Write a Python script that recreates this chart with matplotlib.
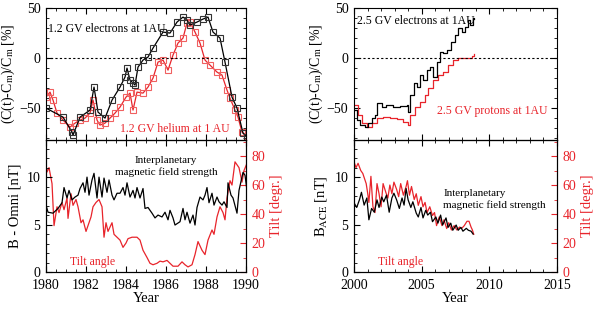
import numpy as np
import matplotlib
matplotlib.use("Agg")
import matplotlib.pyplot as plt
from matplotlib.ticker import MultipleLocator

plt.rcParams.update({
    "font.family": "Liberation Serif",
    "mathtext.fontset": "stix",
    "font.size": 10,
    "xtick.direction": "in",
    "ytick.direction": "in",
    "xtick.major.size": 4,
    "ytick.major.size": 4,
    "xtick.minor.size": 2,
    "ytick.minor.size": 2,
    "xtick.major.pad": 5,
    "ytick.major.pad": 4,
    "axes.linewidth": 0.8,
})

RED = "#e8242b"

# ----------------------------- Data: 1980-1990 -----------------------------
e12_year = [1980.0, 1980.85, 1981.3, 1981.35, 1981.7, 1982.2, 1982.4, 1982.6, 1982.95,
            1983.3, 1983.7, 1983.95, 1984.05, 1984.2, 1984.35, 1984.45, 1984.6, 1984.85,
            1985.1, 1985.35, 1985.85, 1986.2, 1986.55, 1986.85, 1987.05, 1987.2, 1987.55,
            1987.85, 1988.1, 1988.35, 1988.7, 1988.95, 1989.3, 1989.55, 1989.85, 1990.05]
e12_val = [-50, -59, -74, -77, -59, -52, -29, -54, -60,
           -42, -29, -19, -10, -22, -25, -27, -9, -2,
           1, 10, 26, 25, 36, 41, 38, 33, 36,
           39, 41, 26, 20, -4, -39, -50, -75, -79]

he12_year = [1980.0, 1980.2, 1980.35, 1980.55, 1980.85, 1981.2, 1981.45, 1981.7, 1981.95,
             1982.2, 1982.35, 1982.55, 1982.7, 1982.95, 1983.2, 1983.45, 1983.7, 1984.0,
             1984.2, 1984.35, 1984.55, 1984.85, 1985.1, 1985.35, 1985.6, 1985.85, 1986.1,
             1986.35, 1986.6, 1986.85, 1987.05, 1987.2, 1987.45, 1987.7, 1987.95, 1988.2,
             1988.55, 1988.8, 1989.05, 1989.2, 1989.45, 1989.6, 1989.8, 1990.05]
he12_val = [-39, -34, -42, -55, -62, -69, -65, -62, -60,
            -55, -42, -62, -67, -65, -60, -55, -49, -39,
            -35, -52, -34, -35, -29, -20, -4, -2, -12,
            3, 15, 20, 35, 36, 26, 15, -2, -7,
            -14, -17, -32, -40, -52, -59, -74, -78]

bomni_year = [1980.0, 1980.1, 1980.35, 1980.6, 1980.8, 1980.9, 1981.05, 1981.15, 1981.3, 1981.45,
              1981.6, 1981.7, 1981.85, 1981.95, 1982.05, 1982.15, 1982.3, 1982.4, 1982.55, 1982.65,
              1982.8, 1982.9, 1983.05, 1983.15, 1983.3, 1983.4, 1983.55, 1983.7, 1983.85, 1983.95,
              1984.05, 1984.2, 1984.35, 1984.45, 1984.55, 1984.7, 1984.85, 1984.95, 1985.1, 1985.3,
              1985.45, 1985.6, 1985.8, 1985.95, 1986.1, 1986.2, 1986.35, 1986.45, 1986.7, 1986.85,
              1986.95, 1987.05, 1987.2, 1987.35, 1987.45, 1987.55, 1987.7, 1987.85, 1987.95, 1988.05,
              1988.15, 1988.3, 1988.4, 1988.55, 1988.65, 1988.8, 1988.9, 1989.05, 1989.1, 1989.25,
              1989.35, 1989.55, 1989.65, 1989.85, 1989.95, 1990.05]
bomni_val = [7.05, 6.3, 6.2, 6.7, 7.3, 8.9, 7.8, 8.6, 7.6, 7.9,
             8.1, 8.8, 9.4, 8.4, 10.0, 8.1, 9.7, 10.4, 7.8, 10.0,
             7.9, 9.9, 8.4, 9.7, 8.1, 7.6, 8.3, 8.3, 8.9, 8.1,
             9.4, 7.9, 8.6, 7.8, 8.9, 7.8, 8.8, 6.7, 6.8, 6.2,
             5.7, 6.0, 5.8, 6.3, 5.5, 6.5, 5.7, 4.95, 5.3, 6.7,
             5.5, 6.3, 5.15, 6.0, 4.95, 6.8, 7.9, 7.6, 8.1, 8.9,
             7.3, 8.3, 7.05, 7.9, 7.4, 7.05, 7.4, 6.8, 9.4, 8.1,
             7.8, 6.2, 8.6, 10.5, 10.2, 8.6]

tilt80_year = [1980.0, 1980.05, 1980.15, 1980.3, 1980.4, 1980.55, 1980.65, 1980.8, 1980.9, 1981.05,
               1981.1, 1981.25, 1981.35, 1981.5, 1981.6, 1981.75, 1981.85, 1982.0, 1982.1, 1982.25,
               1982.35, 1982.5, 1982.65, 1982.8, 1982.9, 1983.0, 1983.1, 1983.3, 1983.4, 1983.55,
               1983.7, 1983.85, 1984.0, 1984.1, 1984.3, 1984.55, 1984.7, 1984.85, 1985.05, 1985.2,
               1985.35, 1985.55, 1985.7, 1985.85, 1986.05, 1986.2, 1986.35, 1986.6, 1986.8, 1986.95,
               1987.1, 1987.3, 1987.45, 1987.6, 1987.8, 1987.95, 1988.1, 1988.3, 1988.4, 1988.55,
               1988.7, 1988.85, 1988.95, 1989.05, 1989.2, 1989.3, 1989.45, 1989.55, 1989.65, 1989.8,
               1989.9, 1990.05]
tilt80_val = [74, 69, 72, 61, 32, 45, 41, 48, 43, 51,
              37, 54, 46, 50, 45, 34, 36, 28, 32, 38,
              45, 48, 50, 45, 24, 34, 28, 34, 26, 24,
              22, 17, 20, 23, 24, 24, 22, 15, 10, 6,
              5, 6, 7.5, 7, 8, 6, 4, 4, 7, 5,
              3.5, 5, 12, 21, 15, 12, 22, 29, 26, 38,
              45, 41, 36, 51, 63, 60, 76, 74, 72, 62,
              70, 75]

# ----------------------------- Data: 2000-2009 -----------------------------
e25_year = [2000.0, 2000.2, 2000.45, 2000.8, 2001.05, 2001.3, 2001.55, 2001.7, 2002.05, 2002.4,
            2002.9, 2003.4, 2003.9, 2004.0, 2004.15, 2004.4, 2004.65, 2004.9, 2005.1, 2005.4,
            2005.6, 2005.85, 2006.1, 2006.35, 2006.6, 2006.85, 2007.2, 2007.45, 2007.7, 2007.95,
            2008.2, 2008.45, 2008.6, 2008.8, 2008.9]
e25_val = [-52, -62, -67, -69, -65, -60, -57, -45, -49, -47,
           -49, -48, -47, -54, -37, -25, -29, -17, -22, -12,
           -9, -19, -4, 6, 5, 8, 16, 23, 30, 26,
           31, 38, 33, 40, 39]

p25_year = [2000.0, 2000.3, 2000.6, 2000.95, 2001.3, 2001.7, 2002.15, 2002.65, 2003.15, 2003.6,
            2004.0, 2004.15, 2004.5, 2004.9, 2005.25, 2005.5, 2005.85, 2006.2, 2006.6, 2006.95,
            2007.3, 2007.7, 2008.05, 2008.45, 2008.7, 2008.9]
p25_val = [-47, -57, -65, -69, -65, -60, -59, -60, -61, -64,
           -67, -57, -49, -44, -37, -30, -22, -17, -14, -7,
           -2, 0, 0, 0, 2, 4]

bace_year = [2000.0, 2000.2, 2000.4, 2000.55, 2000.75, 2000.95, 2001.1, 2001.3, 2001.5, 2001.7,
             2001.85, 2002.05, 2002.2, 2002.4, 2002.6, 2002.8, 2002.95, 2003.15, 2003.35, 2003.55,
             2003.7, 2003.85, 2004.0, 2004.2, 2004.35, 2004.6, 2004.75, 2004.95, 2005.1, 2005.3,
             2005.45, 2005.65, 2005.8, 2006.05, 2006.2, 2006.4, 2006.55, 2006.8, 2006.95, 2007.15,
             2007.3, 2007.55, 2007.7, 2007.9, 2008.05, 2008.3, 2008.45, 2008.65, 2008.8]
bace_val = [7.3, 6.8, 7.6, 8.4, 7.05, 7.8, 5.5, 6.7, 6.3, 7.6,
            6.8, 7.9, 7.4, 8.1, 6.3, 7.8, 8.3, 7.6, 6.7, 7.8,
            7.05, 8.8, 7.6, 6.8, 7.4, 6.2, 5.8, 6.8, 5.7, 6.5,
            6.0, 6.3, 5.3, 5.8, 5.15, 6.0, 4.95, 5.7, 4.7, 5.15,
            4.4, 4.95, 4.4, 4.7, 4.3, 4.6, 4.4, 4.3, 4.0]

tilt00_year = [2000.0, 2000.15, 2000.3, 2000.5, 2000.65, 2000.9, 2001.0, 2001.1, 2001.25, 2001.4,
               2001.55, 2001.7, 2001.85, 2002.0, 2002.15, 2002.35, 2002.5, 2002.65, 2002.8, 2002.95,
               2003.15, 2003.3, 2003.45, 2003.65, 2003.85, 2003.95, 2004.1, 2004.25, 2004.45, 2004.6,
               2004.75, 2004.95, 2005.1, 2005.25, 2005.4, 2005.6, 2005.8, 2005.95, 2006.1, 2006.3,
               2006.5, 2006.65, 2006.85, 2007.0, 2007.2, 2007.4, 2007.6, 2007.8, 2007.95, 2008.15,
               2008.35, 2008.5, 2008.65, 2008.75, 2008.85]
tilt00_val = [76, 72, 75, 70, 68, 61, 55, 48, 66, 45,
              41, 61, 54, 45, 61, 55, 51, 60, 54, 62,
              57, 52, 61, 53, 59, 63, 53, 59, 50, 54,
              46, 52, 45, 48, 41, 45, 39, 41, 32, 38,
              32, 36, 30, 34, 29, 32, 29, 31, 30, 32,
              35, 35, 31, 29, 26]

# ----------------------------- Figure -----------------------------
fig = plt.figure(figsize=(6.0, 3.1), dpi=100)
TXT = 8.5

def style_top(ax, xmaj, xmin):
    ax.set_ylim(-82, 50)
    ax.yaxis.set_major_locator(MultipleLocator(50))
    ax.yaxis.set_minor_locator(MultipleLocator(10))
    ax.xaxis.set_major_locator(MultipleLocator(xmaj))
    ax.xaxis.set_minor_locator(MultipleLocator(xmin))
    ax.tick_params(which="both", top=True, right=True, labelbottom=False)
    ax.axhline(0, color="black", linestyle=(0, (2, 2)), linewidth=0.8)
    ax.set_ylabel(r"(C(t)-C$_{\rm m}$)/C$_{\rm m}$ [%]", fontsize=10, labelpad=1)

def style_bottom(ax, axr, xmaj, xmin):
    ax.set_ylim(0, 13.9)
    ax.yaxis.set_major_locator(MultipleLocator(5))
    ax.yaxis.set_minor_locator(MultipleLocator(1))
    ax.xaxis.set_major_locator(MultipleLocator(xmaj))
    ax.xaxis.set_minor_locator(MultipleLocator(xmin))
    ax.tick_params(which="both", top=True)
    ax.set_xlabel("Year", fontsize=10.5, labelpad=0)
    axr.set_ylim(0, 91)
    axr.yaxis.set_major_locator(MultipleLocator(20))
    axr.yaxis.set_minor_locator(MultipleLocator(10))
    axr.tick_params(which="both", colors=RED)
    axr.spines["right"].set_color("black")
    axr.set_ylabel("Tilt [degr.]", color=RED, fontsize=10.5, labelpad=3)

# ---- left column
ax1 = fig.add_axes([0.0767, 0.548, 0.3333, 0.426])
ax1.plot(he12_year, he12_val, color=RED, lw=0.9, marker="s", ms=3.8,
         mfc="none", mec="#f06060", mew=0.8)
ax1.plot(e12_year, e12_val, color="black", lw=0.9, marker="s", ms=3.8,
         mfc="none", mec="#333333", mew=0.8)
ax1.set_xlim(1980, 1990)
style_top(ax1, 2, 0.5)
ax1.text(0.01, 0.82, "1.2 GV electrons at 1AU", transform=ax1.transAxes, fontsize=TXT)
ax1.text(0.37, 0.06, "1.2 GV helium at 1 AU", transform=ax1.transAxes, fontsize=TXT, color=RED)

ax2 = fig.add_axes([0.0767, 0.1226, 0.3333, 0.4254])
ax2r = ax2.twinx()
ax2r.plot(tilt80_year, tilt80_val, color=RED, lw=0.9)
ax2.plot(bomni_year, bomni_val, color="black", lw=0.9)
ax2.set_zorder(ax2r.get_zorder() + 1)
ax2.patch.set_visible(False)
ax2.set_xlim(1980, 1990)
style_bottom(ax2, ax2r, 2, 0.5)
ax2.set_ylabel("B - Omni [nT]", fontsize=10.5, labelpad=4)
ax2.text(0.6, 0.80, "Interplanetary\nmagnetic field strength", transform=ax2.transAxes,
         fontsize=8, ha="center", va="center", linespacing=1.3)
ax2.text(0.12, 0.05, "Tilt angle", transform=ax2.transAxes, fontsize=TXT, color=RED)

# ---- right column
ax3 = fig.add_axes([0.59, 0.548, 0.3383, 0.426])
ax3.step(p25_year, p25_val, where="post", color=RED, lw=0.9)
ax3.step(e25_year, e25_val, where="post", color="black", lw=0.9)
ax3.set_xlim(2000, 2015)
style_top(ax3, 5, 1)
ax3.text(0.015, 0.88, "2.5 GV electrons at 1AU", transform=ax3.transAxes, fontsize=TXT)
ax3.text(0.41, 0.20, "2.5 GV protons at 1AU", transform=ax3.transAxes, fontsize=TXT, color=RED)

ax4 = fig.add_axes([0.59, 0.1226, 0.3383, 0.4254])
ax4r = ax4.twinx()
ax4r.plot(tilt00_year, tilt00_val, color=RED, lw=0.9)
ax4.plot(bace_year, bace_val, color="black", lw=0.9)
ax4.set_zorder(ax4r.get_zorder() + 1)
ax4.patch.set_visible(False)
ax4.set_xlim(2000, 2015)
style_bottom(ax4, ax4r, 5, 1)
ax4.set_ylabel(r"B$_{\rm ACE}$ [nT]", fontsize=10.5, labelpad=4)
ax4.text(0.44, 0.55, "Interplanetary\nmagnetic field strength", transform=ax4.transAxes,
         fontsize=8, ha="left", va="center", linespacing=1.3)
ax4.text(0.12, 0.05, "Tilt angle", transform=ax4.transAxes, fontsize=TXT, color=RED)

fig.savefig("out.png", dpi=100)
